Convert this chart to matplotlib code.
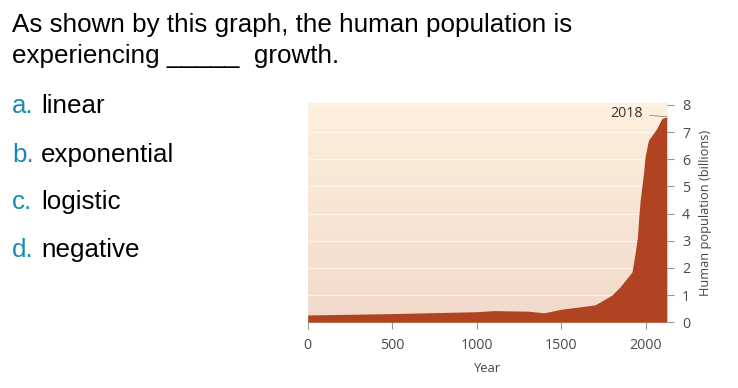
import numpy as np
import matplotlib.pyplot as plt
from matplotlib.colors import LinearSegmentedColormap

# population (billions) at the year positions shown on the axis
years = [0, 500, 1000, 1100, 1300, 1400, 1500, 1600, 1700, 1740, 1800, 1850, 1900,
         1920, 1938, 1952, 1960, 1968, 1988, 1997, 2017, 2047, 2067, 2096, 2125]
pop = [0.27, 0.32, 0.39, 0.43, 0.41, 0.35, 0.48, 0.56, 0.64, 0.78, 1.0, 1.31, 1.7,
       1.86, 2.54, 3.15, 3.9, 4.5, 5.5, 6.1, 6.7, 6.96, 7.14, 7.5, 7.56]

xticks = [0, 500, 1000, 1500, 2000]
yticks = [0, 1, 2, 3, 4, 5, 6, 7, 8]

question = ["As shown by this graph, the human population is",
            "experiencing _____  growth."]
letters = ["a.", "b.", "c.", "d."]
answers = ["linear", "exponential", "logistic", "negative"]

fig = plt.figure(figsize=(7.38, 3.88), dpi=100)
W, H = 738, 388
fs = 18.7

# question + choices
for line, y in zip(question, [31.7, 62.7]):
    fig.text(12 / W, 1 - y / H, line, fontsize=fs, family="Liberation Sans",
             va="baseline", ha="left", color="black")
for l, a, y in zip(letters, answers, [113, 162, 209, 257]):
    fig.text(12 / W, 1 - y / H, l, fontsize=fs, family="Liberation Sans",
             va="baseline", ha="left", color="#1a8bb0")
    fig.text(41 / W, 1 - y / H, a, fontsize=fs, family="Liberation Sans",
             va="baseline", ha="left", color="black")

ax = fig.add_axes([307.7 / W, 1 - 322.3 / H, (666.7 - 307.7) / W, (322.3 - 103.3) / H])
xmax, ymax = 2125, 8.06
ax.set_xlim(0, xmax)
ax.set_ylim(0, ymax)

cmap = LinearSegmentedColormap.from_list("bg", ["#f2dacb", "#fdf0dd"])
grad = np.linspace(0, 1, 256).reshape(-1, 1)
ax.imshow(grad, cmap=cmap, origin="lower", extent=[0, xmax, 0, ymax],
          aspect="auto", zorder=0)
for y in yticks[1:]:
    ax.axhline(y, color="white", lw=0.8, alpha=0.6, zorder=1)

ax.fill_between(years, pop, 0, color="#b04321", lw=0, zorder=2)

for s in ax.spines.values():
    s.set_visible(False)

ax.yaxis.tick_right()
ax.yaxis.set_label_position("right")
ax.set_xticks(xticks)
ax.set_yticks(yticks)
ax.tick_params(axis="both", colors="#999999", labelcolor="#4a4a4a", length=5,
               width=0.8, labelsize=10.3, pad=6)
for lab in ax.get_xticklabels() + ax.get_yticklabels():
    lab.set_family("Open Sans")
ax.set_xlabel("Year", family="Open Sans", fontsize=9.4, color="#444444", labelpad=7)
ax.set_ylabel("Human population (billions)", family="Open Sans", fontsize=9.2,
              color="#444444", labelpad=6)

ax.annotate("2018", xy=(years[-1], pop[-1]), xytext=(1984, 7.7),
            ha="right", va="center", fontsize=10.3, family="Open Sans", color="#333333",
            arrowprops=dict(arrowstyle="-", color="#888888", lw=0.6,
                            shrinkA=3, shrinkB=0), zorder=3)

fig.savefig("out.png", dpi=100)
